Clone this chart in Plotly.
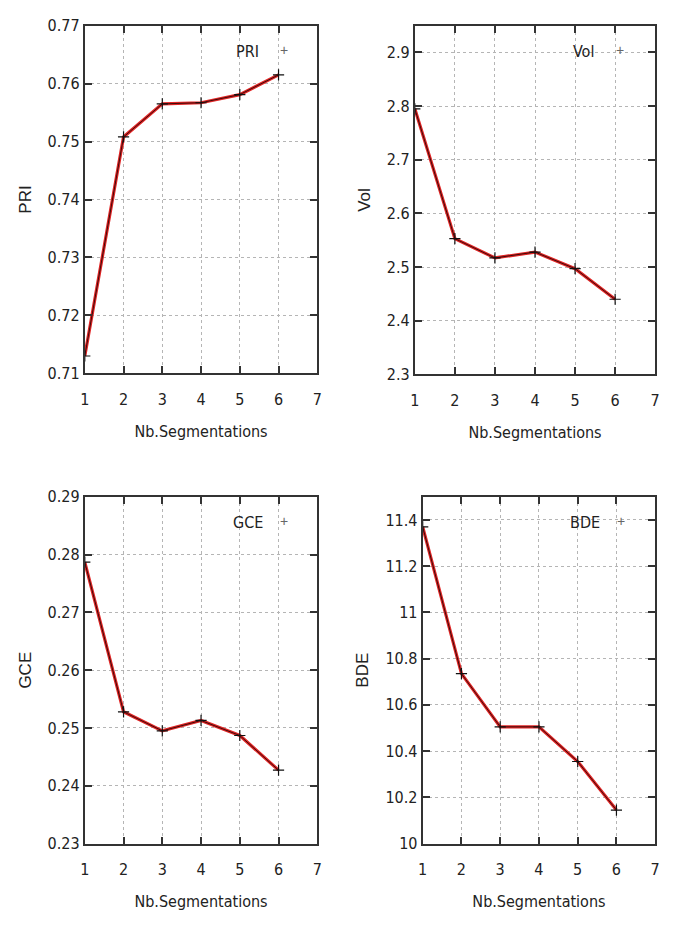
import plotly.graph_objects as go

x_vals = [1, 2, 3, 4, 5, 6]
pri = [0.7130, 0.7508, 0.7565, 0.7567, 0.7581, 0.7615]
vol = [2.795, 2.553, 2.517, 2.528, 2.497, 2.440]
gce = [0.2787, 0.2528, 0.2495, 0.2513, 0.2487, 0.2427]
bde = [11.37, 10.735, 10.505, 10.505, 10.355, 10.145]

names = ["PRI", "Vol", "GCE", "BDE"]
series = [pri, vol, gce, bde]
y_ranges = [[0.71, 0.77], [2.3, 2.95], [0.23, 0.29], [10, 11.5]]
y_dticks = [0.01, 0.1, 0.01, 0.2]
x_title = "Nb.Segmentations"

W, H = 673, 929
# pixel boxes (left, right, top, bottom)
boxes = [(81, 317, 17, 372), (416, 660, 17, 373), (81, 317, 498, 852), (424, 660, 498, 852)]

NARROW = "DejaVu Sans Condensed, Liberation Sans Narrow, Arial Narrow, sans-serif"
SANS = "Liberation Sans, Arial, sans-serif"

fig = go.Figure()
annotations = []
for i, (name, ys, yr, dt, box) in enumerate(zip(names, series, y_ranges, y_dticks, boxes)):
    n = "" if i == 0 else str(i + 1)
    xa, ya = "x" + n, "y" + n
    l, r, t, b = box
    fig.add_trace(go.Scatter(x=x_vals, y=ys, mode="lines", xaxis=xa, yaxis=ya,
                             line=dict(color="#e02424", width=3.2), showlegend=False,
                             hoverinfo="skip"))
    fig.add_trace(go.Scatter(x=x_vals, y=ys, mode="lines+markers", xaxis=xa, yaxis=ya,
                             name=name, showlegend=False,
                             line=dict(color="#2a0808", width=0.9),
                             marker=dict(symbol="cross-thin", size=8,
                                         line=dict(color="#111111", width=1.2))))
    axis_common = dict(showline=True, linecolor="#333333", linewidth=2, mirror="ticks",
                       ticks="inside", ticklen=7, tickwidth=2, tickcolor="#333333",
                       showgrid=True, gridcolor="#b5b5b5", griddash="dot", gridwidth=1,
                       zeroline=False, tickfont=dict(family=NARROW, size=16, color="#222222"))
    fig.layout["xaxis" + n] = dict(axis_common, domain=[l / W, r / W], anchor=ya,
                                   range=[1, 7], dtick=1, tick0=1, ticklabelstandoff=10,
                                   title=dict(text=x_title, standoff=18,
                                              font=dict(family=NARROW, size=16, color="#222222")))
    fig.layout["yaxis" + n] = dict(axis_common, domain=[1 - b / H, 1 - t / H], anchor=xa,
                                   range=yr, dtick=dt, tick0=yr[0],
                                   title=dict(text=name, standoff=12,
                                              font=dict(family=SANS, size=17, color="#222222")))
    # legend-like key in the upper right
    annotations.append(dict(xref=xa + " domain", yref=ya + " domain", x=0.70, y=0.925,
                            text=name, showarrow=False, xanchor="center", yanchor="middle",
                            font=dict(family=NARROW, size=16, color="#222222")))
    annotations.append(dict(xref=xa + " domain", yref=ya + " domain", x=0.855, y=0.93,
                            text="+", showarrow=False, xanchor="center", yanchor="middle",
                            font=dict(family=SANS, size=14, color="#666666")))

fig.update_layout(width=W, height=H, margin=dict(l=0, r=0, t=0, b=0),
                  paper_bgcolor="white", plot_bgcolor="white",
                  annotations=annotations)
fig.write_html("out.html", config={"displayModeBar": False},
               post_script="document.body.style.margin='0';document.body.style.overflow='hidden';")
